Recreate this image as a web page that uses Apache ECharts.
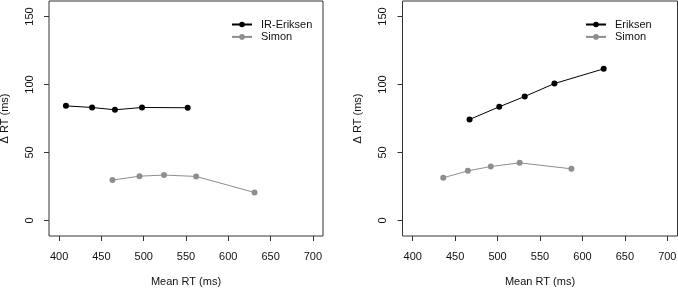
<!DOCTYPE html>
<html>
<head>
<meta charset="utf-8">
<script src="https://cdn.jsdelivr.net/npm/echarts@6/dist/echarts.min.js"></script>
<style>
  html, body { margin: 0; padding: 0; background: #fff; }
  #chart { width: 678px; height: 288px; }
</style>
</head>
<body>
<div id="chart"></div>
<script>
// --- data ---
const xTicks = [400, 450, 500, 550, 600, 650, 700];
const yTicks = [0, 50, 100, 150];

// left panel
const irEriksenX = [408, 439, 466, 498, 552];
const irEriksenY = [84.3, 83.1, 81.4, 83.1, 82.9];
const simonLeftX = [463, 495, 524, 562, 631];
const simonLeftY = [29.7, 32.6, 33.4, 32.4, 20.6];

// right panel
const eriksenX = [467, 502, 532, 567, 625];
const eriksenY = [74.3, 83.6, 91.2, 100.7, 111.5];
const simonRightX = [436, 465, 492, 526, 587];
const simonRightY = [31.4, 36.5, 39.7, 42.4, 38.0];

const font = 'Liberation Sans, Arial, Helvetica, sans-serif';
const textColor = '#111';
const black = '#000';
const gray = '#8e8e8e';

const pairs = (xs, ys) => xs.map((x, i) => [x, ys[i]]);

const xAxisFor = (gridIndex) => ({
  type: 'value',
  gridIndex,
  min: 388,
  max: 712,
  name: 'Mean RT (ms)',
  nameLocation: 'middle',
  nameGap: 40,
  nameTextStyle: { fontFamily: font, fontSize: 11, color: textColor },
  axisLine: { show: false, onZero: false },
  splitLine: { show: false },
  axisTick: { show: true, inside: false, length: 5, customValues: xTicks, lineStyle: { color: '#333' } },
  axisLabel: { customValues: xTicks, margin: 15, fontFamily: font, fontSize: 11, color: textColor }
});

const yAxisFor = (gridIndex) => ({
  type: 'value',
  gridIndex,
  min: -11.4,
  max: 161.4,
  name: 'Δ RT (ms)',
  nameLocation: 'middle',
  nameGap: 39,
  nameTextStyle: { fontFamily: font, fontSize: 11, color: textColor },
  axisLine: { show: false, onZero: false },
  splitLine: { show: false },
  axisTick: { show: true, inside: false, length: 5, customValues: yTicks, lineStyle: { color: '#333' } },
  axisLabel: { customValues: yTicks, rotate: 90, margin: 14, fontFamily: font, fontSize: 11, color: textColor }
});

const lineSeries = (name, data, color, idx) => ({
  name,
  type: 'line',
  xAxisIndex: idx,
  yAxisIndex: idx,
  data,
  symbol: 'circle',
  symbolSize: 6,
  showSymbol: true,
  lineStyle: { color, width: 1 },
  itemStyle: { color },
  emphasis: { disabled: true },
  animation: false
});

const legendFor = (left, names) => ({
  left,
  top: 18.5,
  padding: 0,
  orient: 'vertical',
  data: names,
  itemWidth: 20,
  itemHeight: 7,
  itemGap: 0.4,
  textStyle: { fontFamily: font, fontSize: 11, color: textColor, lineHeight: 12, padding: [0, 0, 0, 4] },
  selectedMode: false
});

const gridFor = (left, width) => ({
  left, top: 1, width, height: 235,
  outerBoundsMode: 'none',
  containLabel: false,
  show: true, borderColor: '#333', borderWidth: 1, backgroundColor: 'transparent'
});

const chart = echarts.init(document.getElementById('chart'), null, { renderer: 'canvas' });

chart.setOption({
  backgroundColor: '#fff',
  animation: false,
  grid: [gridFor(49, 274), gridFor(402.5, 275)],
  xAxis: [xAxisFor(0), xAxisFor(1)],
  yAxis: [yAxisFor(0), yAxisFor(1)],
  legend: [
    legendFor(231, ['IR-Eriksen', 'Simon ']),
    legendFor(585, ['Eriksen', 'Simon'])
  ],
  series: [
    lineSeries('IR-Eriksen', pairs(irEriksenX, irEriksenY), black, 0),
    lineSeries('Simon ', pairs(simonLeftX, simonLeftY), gray, 0),
    lineSeries('Eriksen', pairs(eriksenX, eriksenY), black, 1),
    lineSeries('Simon', pairs(simonRightX, simonRightY), gray, 1)
  ]
});
</script>
</body>
</html>
